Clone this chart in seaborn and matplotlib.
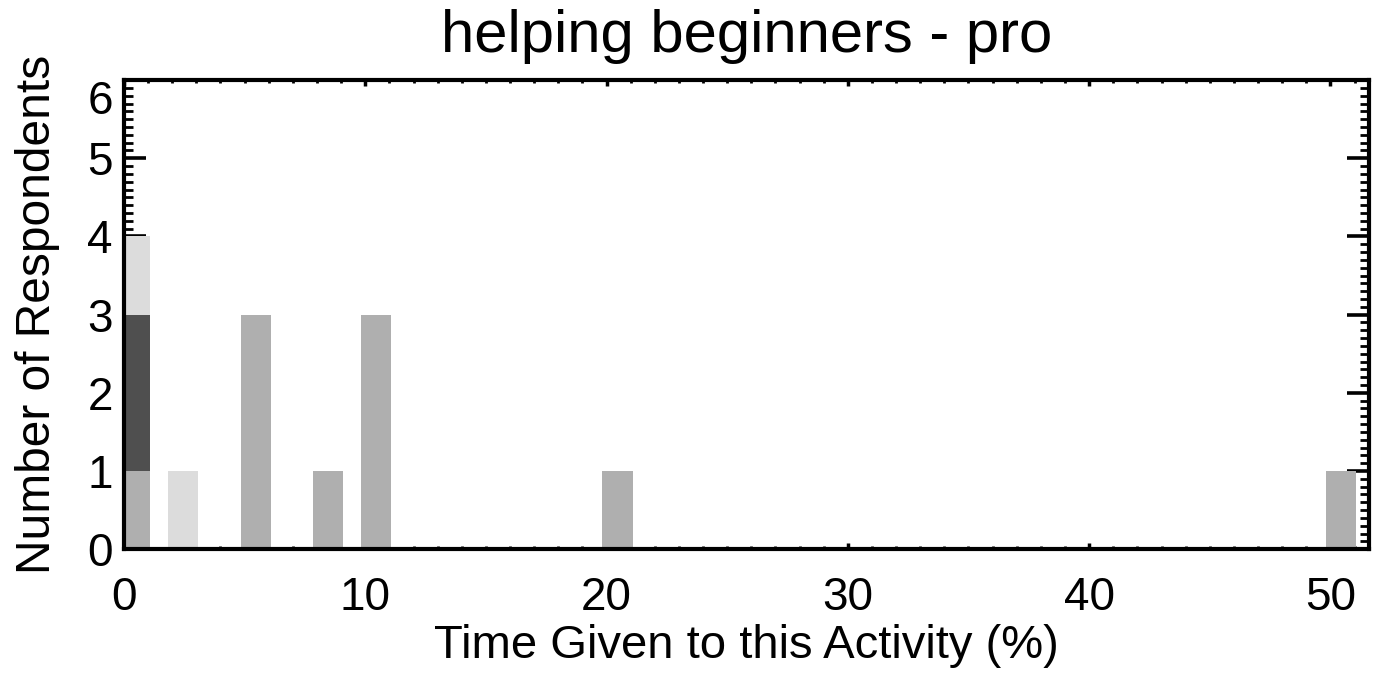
import numpy as np
import matplotlib
matplotlib.use("Agg")
import matplotlib.pyplot as plt
import seaborn as sns
from matplotlib.ticker import MultipleLocator

# time given (%) and respondent counts, three stacked groups
gray_x = [0, 5, 8, 10, 20, 50]
gray_n = [1, 3, 1, 3, 1, 1]
dark_x = [0]
dark_n = [2]
light_x = [0, 2]
light_n = [1, 1]

xticks = [0, 10, 20, 30, 40, 50]
yticks = [0, 1, 2, 3, 4, 5, 6]

sns.set_theme(style="ticks")
plt.rcParams["font.family"] = ["Liberation Sans", "DejaVu Sans"]
plt.rcParams["text.color"] = "black"
plt.rcParams["axes.labelcolor"] = "black"
plt.rcParams["xtick.color"] = "black"
plt.rcParams["ytick.color"] = "black"

fig = plt.figure(figsize=(13.82, 6.73), dpi=100)
ax = fig.add_axes([0.0897, 0.184, 0.9009, 0.697])

# stack: gray at bottom, dark over it, light on top
bottoms = {}
def add(xs, ns, color):
    for x, n in zip(xs, ns):
        b = bottoms.get(x, 0)
        ax.bar(x - 0.17, n, width=1.25, bottom=b, align="edge",
               color=color, linewidth=0, zorder=1)
        bottoms[x] = b + n

add(gray_x, gray_n, "#afafaf")
add(dark_x, dark_n, "#4f4f4f")
add(light_x, light_n, "#dcdcdc")

ax.set_xlim(0, 51.6)
ax.set_ylim(0, 6)
ax.set_xticks(xticks)
ax.set_yticks(yticks)
ax.xaxis.set_minor_locator(MultipleLocator(1))
ax.yaxis.set_minor_locator(MultipleLocator(0.1))

for s in ax.spines.values():
    s.set_linewidth(3)
    s.set_color("black")
    s.set_visible(True)

ax.tick_params(axis="y", which="major", direction="in", length=16, width=2.6,
               left=True, right=True, labelsize=33, pad=8)
ax.tick_params(axis="y", which="minor", direction="in", length=6.5, width=2.0,
               left=True, right=True)
ax.tick_params(axis="x", which="major", direction="in", length=4.5, width=2.5,
               bottom=True, top=True, labelsize=33, pad=19)
ax.tick_params(axis="x", which="minor", direction="in", length=2, width=2.0,
               bottom=True, top=True)

ylabels = ax.get_yticklabels()
ylabels[-1].set_va("top")

ax.set_title("helping beginners - pro", fontsize=43, pad=20)
ax.set_xlabel("Time Given to this Activity (%)", fontsize=34, labelpad=3)
ax.set_ylabel("Number of Respondents", fontsize=34.5, labelpad=20)
ax.set_facecolor("white")
fig.patch.set_facecolor("white")

fig.savefig("out.png", dpi=100)
